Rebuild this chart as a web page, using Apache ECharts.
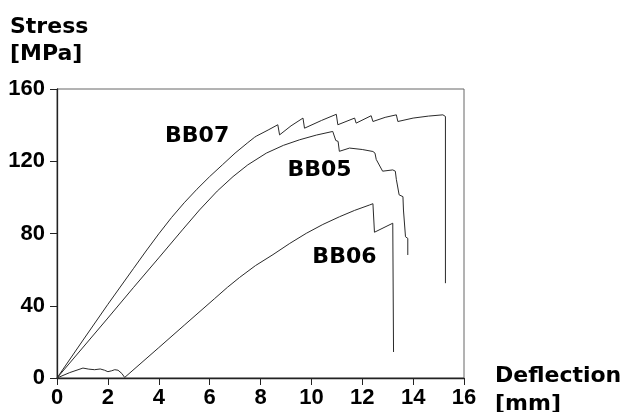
<!DOCTYPE html>
<html>
<head>
  <meta charset="utf-8">
  <title>Stress - Deflection</title>
  <script src="https://cdn.jsdelivr.net/npm/echarts@6/dist/echarts.min.js"></script>
  <style>
    html, body { margin: 0; padding: 0; background: #fff; }
    #graph { width: 622px; height: 412px; }
  </style>
</head>
<body>
  <div id="graph"></div>

  <script>
    // data: [deflection mm, stress MPa]
    var bb07 = [
      [0, 0], [1, 20.5], [2, 40.8], [3, 60.5], [3.5, 70.3], [4, 79.8], [4.5, 88.8],
      [5, 97], [5.5, 104.5], [6, 111.5], [6.5, 118], [7, 124.5], [7.5, 130.3],
      [7.77, 133.3], [7.8, 132.6], [7.85, 134], [8.3, 137.3], [8.68, 140.2],
      [8.75, 134.6], [9.2, 139.6], [9.67, 143.9], [9.73, 138.3], [10.4, 142.6],
      [10.98, 146], [11.04, 140.2], [11.7, 143.9], [11.76, 141.1], [12.35, 145.2],
      [12.42, 142], [12.9, 144.3], [13.34, 145.7], [13.4, 142], [14.0, 143.9],
      [14.6, 145], [15.17, 145.7], [15.27, 144.8], [15.27, 52.5]
    ];
    var bb05 = [
      [0, 0], [1, 16.6], [2, 33.2], [3, 50], [4, 66.5], [4.93, 82], [5.6, 93],
      [6.3, 103.5], [6.92, 111.5], [7.5, 118], [8.23, 124.5], [8.9, 128.8],
      [9.54, 131.9], [10.2, 134.5], [10.84, 136.5], [10.91, 137.2], [10.96, 131.5],
      [11.05, 131], [11.1, 125.5], [11.5, 127.3], [12.0, 126.5], [12.42, 125.4],
      [12.5, 124.5], [12.55, 121], [12.8, 114.5], [13.2, 115.2], [13.3, 114.5],
      [13.34, 110], [13.45, 101.4], [13.6, 100.4], [13.62, 93], [13.7, 78.2],
      [13.79, 77.3], [13.79, 68.1]
    ];
    var bb06 = [
      [0, 0], [0.5, 3], [1.02, 5.5], [1.25, 4.9], [1.48, 4.6], [1.7, 5],
      [1.87, 4.3], [2.0, 3.5], [2.15, 4], [2.27, 4.6], [2.4, 4.3], [2.55, 2.5],
      [2.66, 0.3], [4, 16.8], [5, 29.2], [6.2, 44], [6.7, 50.2], [7.18, 55.7],
      [7.8, 62.2], [8.49, 68.3], [9.15, 74.5], [9.8, 80.1], [10.45, 85],
      [11.11, 89.3], [11.7, 92.8], [12.29, 95.8], [12.42, 96.5], [12.48, 80.7],
      [13.2, 85.7], [13.23, 14.4]
    ];
    // where the specimen names sit, in data coordinates
    var names = ['BB07', 'BB05', 'BB06'];
    var namePos = [[5.51, 133.7], [10.32, 115.2], [11.3, 67]];

    var lineColor = '#2a2a2a';
    var digitFont = { fontFamily: 'Liberation Sans', fontWeight: 'bold', fontSize: 22, color: '#000' };
    var wordFont = { fontFamily: 'DejaVu Sans', fontWeight: 'bold', fontSize: 22, color: '#000' };

    var myChart = echarts.init(document.getElementById('graph'));

    function curve(name, data) {
      return {
        name: name,
        type: 'line',
        data: data,
        showSymbol: false,
        symbol: 'none',
        animation: false,
        lineStyle: { color: lineColor, width: 1 }
      };
    }

    var option = {
      backgroundColor: '#fff',
      animation: false,
      title: [
        {
          text: 'Stress\n[MPa]',
          left: 5, top: 9,
          textStyle: Object.assign({ lineHeight: 27 }, wordFont)
        },
        {
          text: 'Deflection\n[mm]',
          left: 490, top: 357,
          textStyle: Object.assign({ lineHeight: 28 }, wordFont)
        }
      ],
      grid: {
        left: 57, right: 158, top: 89, bottom: 34,
        show: true, borderColor: '#666', borderWidth: 1
      },
      xAxis: {
        type: 'value', min: 0, max: 16, interval: 2,
        axisLine: { show: true, lineStyle: { color: '#222', width: 1.3 } },
        axisTick: { show: true, length: 7, lineStyle: { color: '#222' } },
        axisLabel: Object.assign({ margin: 9 }, digitFont),
        splitLine: { show: false }
      },
      yAxis: {
        type: 'value', min: 0, max: 160, interval: 40,
        axisLine: { show: true, lineStyle: { color: '#222', width: 1.3 } },
        axisTick: { show: true, length: 7, lineStyle: { color: '#222' } },
        axisLabel: Object.assign({ margin: 12 }, digitFont),
        splitLine: { show: false }
      },
      series: [
        curve('BB07', bb07),
        curve('BB05', bb05),
        curve('BB06', bb06),
        {
          type: 'scatter',
          symbolSize: 0,
          silent: true,
          itemStyle: { opacity: 1 },
          data: namePos.map(function (p, i) { return { name: names[i], value: p }; }),
          label: Object.assign({
            show: true, position: 'inside',
            formatter: function (p) { return p.name; }
          }, wordFont)
        }
      ]
    };

    myChart.setOption(option);
  </script>
</body>
</html>
